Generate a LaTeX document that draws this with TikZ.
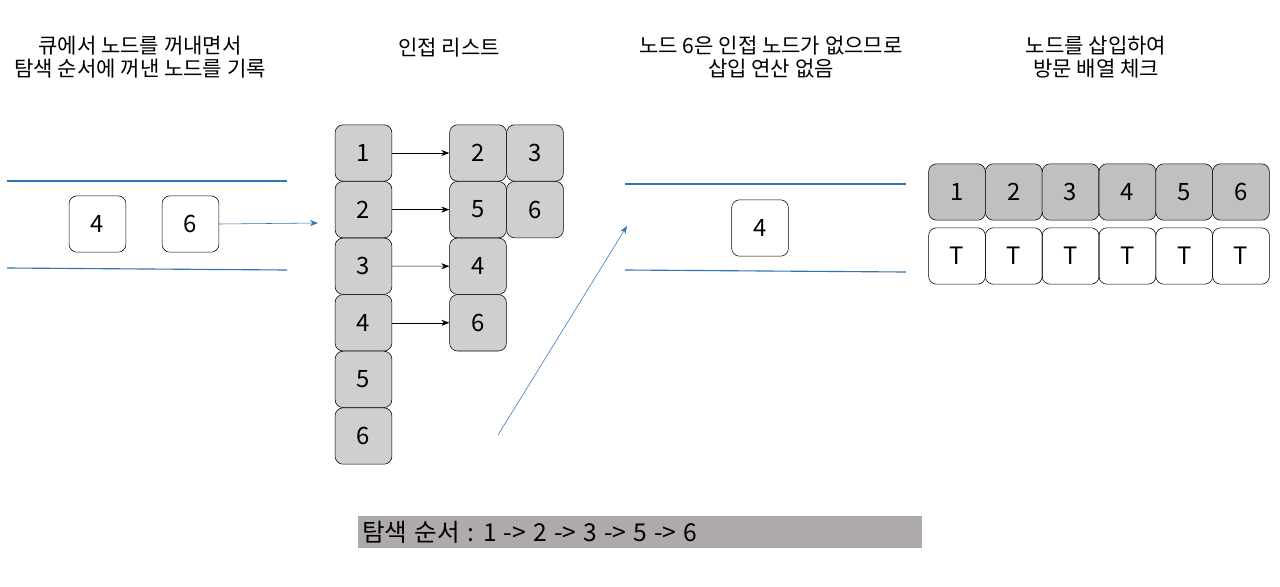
\documentclass[tikz,border=0pt]{standalone}
\usepackage{fontspec}
\setmainfont{Noto Sans CJK KR}
\newfontfamily\barfont[WordSpace=1.3]{Noto Sans CJK KR}
\usepackage{xcolor}
\usepackage{tikz}
\usetikzlibrary{arrows.meta, positioning}
\definecolor{qblue}{RGB}{46,117,182}
\definecolor{adjgray}{RGB}{208,206,206}
\definecolor{visgray}{RGB}{192,192,192}
\definecolor{bargray}{RGB}{174,170,170}

\begin{document}
\begin{tikzpicture}[x=0.025cm, y=-0.025cm,
    every node/.style={font=\fontsize{15}{15.8}\selectfont},
    cell/.style={draw, rounded corners=0.2cm, minimum width=1.42cm, minimum height=1.41cm,
      inner sep=0pt, font=\fontsize{17}{18}\selectfont},
    adj/.style={cell, fill=adjgray},
    vis/.style={cell, fill=visgray},
    qline/.style={qblue, line width=0.8pt}]
  \useasboundingbox (0,0) rectangle (1280,586);

  % titles
  \node[align=center] (t1) at (140,57) {큐에서 노드를 꺼내면서\\탐색 순서에 꺼낸 노드를 기록};
  \node (t2) at (449,48) {인접 리스트};
  \node[align=center] (t3) at (771,57) {노드 6은 인접 노드가 없으므로\\삽입 연산 없음};
  \node[align=center] (t4) at (1096,57) {노드를 삽입하여\\방문 배열 체크};

  % queue before
  \draw[qline] (7,181) -- (287,181);
  \draw[qline] (7,268) -- (287,270);
  \node[cell] (q4) at (97.5,224) {4};
  \node[cell] (q6) at (190.5,224) {6};
  \coordinate (adjin) at (318,223);
  \draw[qblue, -{Stealth[length=2mm]}] (q6.east) -- (adjin);

  % adjacency list
  \foreach \i in {1,...,6}
    \node[adj] (a\i) at (363.5,{153+(\i-1)*56.6}) {\i};
  \node[adj] (a12) at (478,153) {2};
  \node[adj] (a13) at (535,153) {3};
  \node[adj] (a25) at (478,209.6) {5};
  \node[adj] (a26) at (535,209.6) {6};
  \node[adj] (a34) at (478,266.2) {4};
  \node[adj] (a46) at (478,322.8) {6};
  \foreach \s/\t in {a1/a12, a2/a25, a3/a34, a4/a46}
    \draw[-{Stealth[length=2mm]}] (\s.east) -- (\t.west);

  % back into the queue
  \coordinate (up0) at (498,435);
  \coordinate (up1) at (627,226);
  \draw[qblue, -{Stealth[length=2mm]}] (up0) -- (up1);

  % queue after
  \draw[qline] (625,184) -- (906,184);
  \draw[qline] (625,270) -- (906,272);
  \node[cell] (r4) at (760,228) {4};

  % visited array
  \foreach \i in {1,...,6} {
    \node[vis] (v\i) at ({957+(\i-1)*56.8},192) {\i};
    \node[cell] (c\i) at ({957+(\i-1)*56.8},256) {T};
  }

  % order
  \node[fill=bargray, minimum width=14.1cm, minimum height=0.8cm, inner sep=0pt] (bar) at (640,532) {};
  \node[anchor=west, font=\barfont\fontsize{17.5}{19}\selectfont, inner sep=0pt] (order) at (362,532)
    {탐색 순서 : 1 -> 2 -> 3 -> 5 -> 6};
\end{tikzpicture}
\end{document}
